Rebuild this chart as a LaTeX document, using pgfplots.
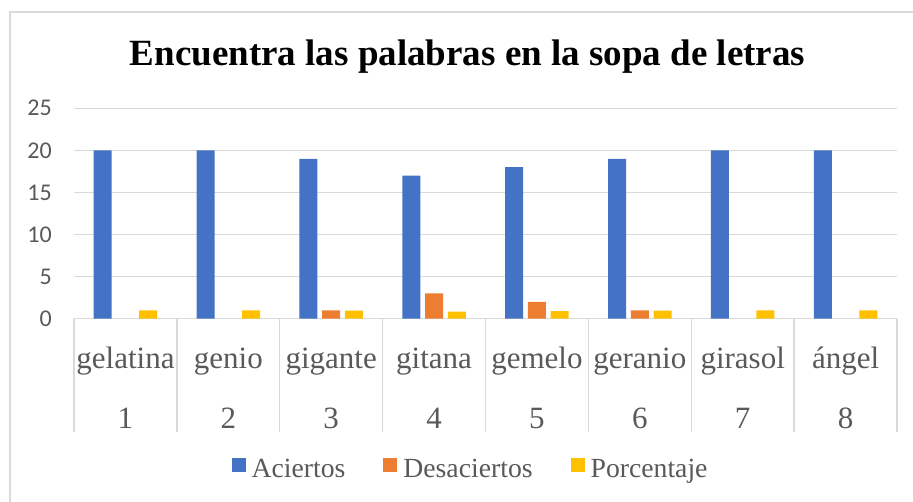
\documentclass[border=0pt]{standalone}
\usepackage{fontspec}
\setmainfont{Liberation Serif}
\newfontfamily\calib{Carlito}
\usepackage{pgfplots}
\pgfplotsset{compat=1.18}
\definecolor{cblue}{HTML}{4472C4}
\definecolor{corange}{HTML}{ED7D31}
\definecolor{cyellow}{HTML}{FFC000}
\definecolor{tgray}{HTML}{595959}
\definecolor{ggray}{HTML}{D9D9D9}
\begin{document}
\begin{tikzpicture}[x=1pt,y=1pt]
\useasboundingbox (0,0) rectangle (913,502);
\draw[ggray, line width=1.3pt] (10,490) rectangle (930,-20);
\node[font=\bfseries\fontsize{37}{37}\selectfont, anchor=base] at (467.5,436.3) {Encuentra las palabras en la sopa de letras};
\begin{axis}[
  at={(74pt,183.3pt)}, anchor=south west,
  scale only axis, width=823pt, height=210.4pt,
  xmin=0.5, xmax=8.5, ymin=0, ymax=25,
  enlargelimits=false, clip=false,
  ybar=4.7pt, bar width=18pt,
  axis line style={draw=none},
  ytick={0,5,...,25},
  /pgf/number format/assume math mode=true,
  ymajorgrids, grid style={ggray, line width=1.3pt},
  major tick length=0pt,
  xtick={1,...,8},
  xticklabels={gelatina,genio,gigante,gitana,gemelo,geranio,girasol,ángel},
  xticklabel style={anchor=base, yshift=-50.3pt, inner sep=0pt, text=tgray, font=\fontsize{31}{31}\selectfont},
  yticklabel style={anchor=east, inner sep=0pt, xshift=-22pt, text=tgray, font=\calib\fontsize{24}{24}\selectfont},
  extra x ticks={0.5,1.5,...,8.5},
  extra x tick labels={},
  extra x tick style={grid=none, tick align=outside, xtick pos=left, major tick length=113pt, tick style={draw=ggray, line width=1.3pt}},
  legend columns=-1,
  legend style={at={(0.4806,-0.7144)}, anchor=center, draw=none, fill=none,
    font=\fontsize{27.7}{27.7}\selectfont, text=tgray,
    nodes={inner xsep=0pt, inner ysep=1pt},
    /tikz/every odd column/.append style={column sep=6pt},
    /tikz/every even column/.append style={column sep=38pt}},
]
\addplot[fill=cblue, draw=none, legend image code/.code={\fill[cblue] (0pt,-2pt) rectangle (14pt,12pt);}] coordinates {(1,20) (2,20) (3,19) (4,17) (5,18) (6,19) (7,20) (8,20)};
\addplot[fill=corange, draw=none, legend image code/.code={\fill[corange] (0pt,-2pt) rectangle (14pt,12pt);}] coordinates {(3,1) (4,3) (5,2) (6,1)};
\addplot[fill=cyellow, draw=none, legend image code/.code={\fill[cyellow] (0pt,-2pt) rectangle (14pt,12pt);}] coordinates {(1,1) (2,1) (3,0.95) (4,0.85) (5,0.9) (6,0.95) (7,1) (8,1)};
\legend{Aciertos,Desaciertos,Porcentaje}
\pgfplotsinvokeforeach{1,...,8}{
  \node[anchor=base, inner sep=0pt, text=tgray, font=\fontsize{31}{31}\selectfont] at (axis cs:#1,0) [yshift=-110.3pt] {#1};
}
\end{axis}
\end{tikzpicture}
\end{document}
